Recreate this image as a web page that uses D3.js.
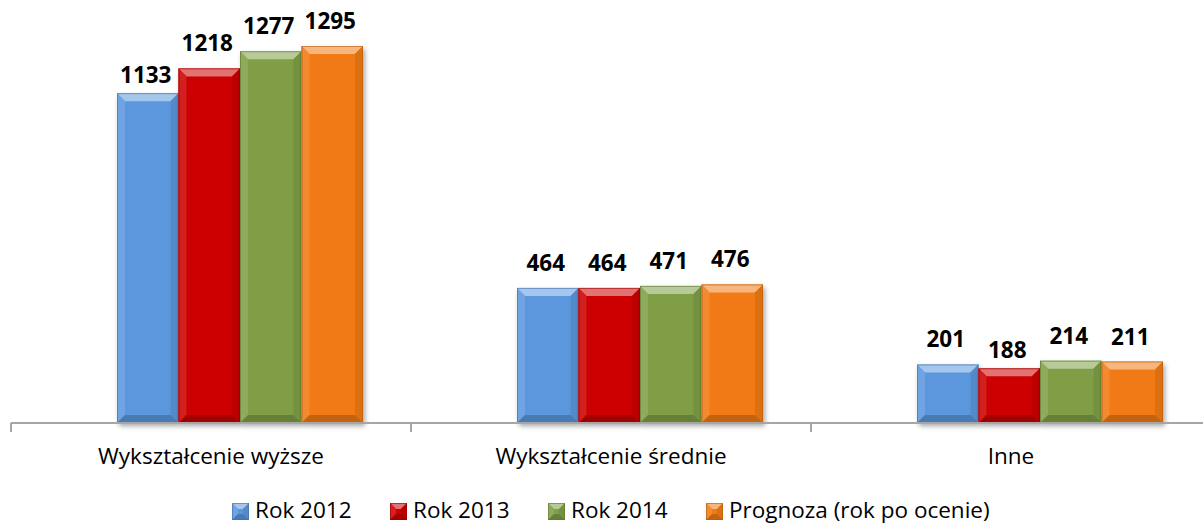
<!DOCTYPE html>
<html>
<head>
<meta charset="utf-8">
<script src="https://cdn.jsdelivr.net/npm/d3@7"></script>
<style>
  body { margin: 0; background: #fff; }
  svg text { font-family: "Open Sans", sans-serif; fill: #000; }
</style>
</head>
<body>
<div id="chart"></div>
<script>
const categories = ["Wykształcenie wyższe", "Wykształcenie średnie", "Inne"]
const seriesNames = ["Rok 2012", "Rok 2013", "Rok 2014", "Prognoza (rok po ocenie)"]
const rok2012 = [1133, 464, 201]
const rok2013 = [1218, 464, 188]
const rok2014 = [1277, 471, 214]
const prognoza = [1295, 476, 211]
const colors = ["#5b97de", "#cc0000", "#7f9e45", "#f17a12"]

const seriesValues = [rok2012, rok2013, rok2014, prognoza]

var width = 1203, height = 524

var svg = d3.select("#chart")
  .append("svg")
    .attr("width", width)
    .attr("height", height)

var defs = svg.append("defs")
defs.append("filter")
    .attr("id", "shadow")
    .attr("x", "-20%").attr("y", "-20%")
    .attr("width", "150%").attr("height", "150%")
  .append("feDropShadow")
    .attr("dx", 2).attr("dy", 3)
    .attr("stdDeviation", 2.5)
    .attr("flood-color", "#000")
    .attr("flood-opacity", 0.35)

var x = d3.scaleBand()
  .domain(categories)
  .range([11, 1211])

var x1 = d3.scaleBand()
  .domain(seriesNames)
  .range([106, 352])

var y = d3.scaleLinear()
  .domain([0, 1295])
  .range([423, 46])

// bevelled bar, like the Excel "soft bevel" effect
function bevelBar(g, x0, y0, w, h, color, b) {
  var c = d3.color(color)
  var light = d3.interpolateRgb(color, "#fff")(0.45)
  var dark = c.darker(0.6)
  var x1b = x0 + w, y1b = y0 + h
  var bb = Math.min(b, w / 2, h / 2)
  g.append("rect")
    .attr("class", "body")
    .attr("x", x0).attr("y", y0).attr("width", w).attr("height", h)
    .attr("fill", color)
    .attr("filter", "url(#shadow)")
  // top
  g.append("polygon")
    .attr("points", [[x0, y0], [x1b, y0], [x1b - bb, y0 + bb], [x0 + bb, y0 + bb]].join(" "))
    .attr("fill", light)
  // left
  g.append("polygon")
    .attr("points", [[x0, y0], [x0 + bb, y0 + bb], [x0 + bb, y1b - bb], [x0, y1b]].join(" "))
    .attr("fill", d3.interpolateRgb(color, "#fff")(0.12))
  // right
  g.append("polygon")
    .attr("points", [[x1b, y0], [x1b - bb, y0 + bb], [x1b - bb, y1b - bb], [x1b, y1b]].join(" "))
    .attr("fill", c.darker(0.25))
  // bottom
  g.append("polygon")
    .attr("points", [[x0, y1b], [x0 + bb, y1b - bb], [x1b - bb, y1b - bb], [x1b, y1b]].join(" "))
    .attr("fill", dark)
  g.append("rect")
    .attr("x", x0 + 0.5).attr("y", y0 + 0.5).attr("width", w - 1).attr("height", h - 1)
    .attr("fill", "none")
    .attr("stroke", c.darker(0.8))
    .attr("stroke-opacity", 0.6)
}

// excel pushed a couple of labels down (1133, 188)
function labelGap(si, ci) {
  if ((si == 0 && ci == 0) || (si == 1 && ci == 2)) return 10
  return 17
}

var bars = svg.append("g")
seriesNames.forEach(function (s, si) {
  categories.forEach(function (cat, ci) {
    var v = seriesValues[si][ci]
    var bx = x(cat) + x1(s)
    var by = y(v)
    bevelBar(bars.append("g"), bx, by, x1.bandwidth(), y(0) - by, colors[si], 8)
    svg.append("text")
      .attr("x", bx + x1.bandwidth() / 2 - 2)
      .attr("y", by - labelGap(si, ci))
      .attr("text-anchor", "middle")
      .style("font-size", "22.5px")
      .style("font-weight", "bold")
      .text(v)
  })
})

// axis line and boundary ticks
svg.append("line")
  .attr("x1", 11).attr("x2", width)
  .attr("y1", 423).attr("y2", 423)
  .attr("stroke", "#a6a6a6").attr("stroke-width", 2)
svg.append("g")
  .selectAll("line")
  .data(categories)
  .enter()
  .append("line")
    .attr("x1", function (d) { return x(d) }).attr("x2", function (d) { return x(d) })
    .attr("y1", 423).attr("y2", 432)
    .attr("stroke", "#a6a6a6").attr("stroke-width", 2)

var xAxis = svg.append("g")
  .attr("transform", "translate(0,423)")
  .call(d3.axisBottom(x).tickSize(0).tickPadding(0))
xAxis.select(".domain").remove()
xAxis.selectAll("text")
  .attr("y", 41).attr("dy", 0)
  .style("font-size", "22.5px")
  .style("font-family", "'Open Sans', sans-serif")

// legend
var legendX = [232, 390, 548, 706]
var legend = svg.append("g")
seriesNames.forEach(function (s, i) {
  var g = legend.append("g")
  bevelBar(g, legendX[i], 503, 17, 17, colors[i], 6)
  g.select("rect.body").attr("filter", null)
  g.append("text")
    .attr("x", legendX[i] + 23)
    .attr("y", 518)
    .style("font-size", "22.5px")
    .text(s)
})
</script>
</body>
</html>
